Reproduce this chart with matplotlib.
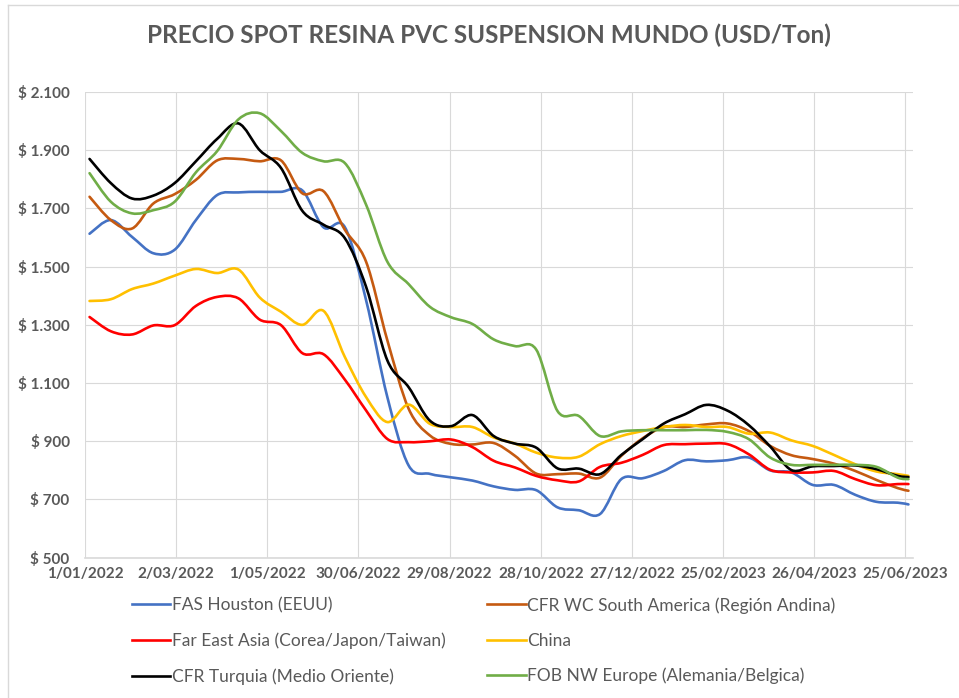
import matplotlib
matplotlib.use("Agg")
import matplotlib.pyplot as plt
import matplotlib.dates as mdates
from matplotlib.path import Path
from matplotlib.patches import PathPatch
from matplotlib.lines import Line2D
from matplotlib.ticker import FuncFormatter
import numpy as np
import pandas as pd

plt.rcParams["font.family"] = ["Lato", "DejaVu Sans"]

TITLE = "PRECIO SPOT RESINA PVC SUSPENSION MUNDO (USD/Ton)"

DATES = [
    "2022-01-04", "2022-01-18", "2022-02-01", "2022-02-15", "2022-03-01",
    "2022-03-15", "2022-03-29", "2022-04-12", "2022-04-26", "2022-05-10",
    "2022-05-24", "2022-06-07", "2022-06-21", "2022-07-05", "2022-07-19",
    "2022-08-02", "2022-08-16", "2022-08-30", "2022-09-13", "2022-09-27",
    "2022-10-11", "2022-10-25", "2022-11-08", "2022-11-22", "2022-12-06",
    "2022-12-20", "2023-01-03", "2023-01-17", "2023-01-31", "2023-02-14",
    "2023-02-28", "2023-03-14", "2023-03-28", "2023-04-11", "2023-04-25",
    "2023-05-09", "2023-05-23", "2023-06-06", "2023-06-20", "2023-06-27",
]

fas_houston = [1613, 1660, 1602, 1546, 1558, 1660, 1746, 1755, 1757, 1757,
               1762, 1635, 1636, 1385, 1052, 817, 788, 776, 765, 745,
               733, 732, 673, 663, 650, 770, 773, 798, 835, 831,
               835, 844, 800, 793, 750, 750, 716, 692, 689, 683]
cfr_wc_sa = [1740, 1660, 1631, 1717, 1749, 1798, 1865, 1870, 1862, 1865,
             1752, 1759, 1627, 1517, 1247, 1012, 920, 891, 889, 894,
             850, 789, 787, 789, 775, 850, 910, 949, 949, 958,
             961, 935, 884, 852, 839, 823, 798, 767, 739, 730]
far_east = [1327, 1278, 1267, 1298, 1299, 1365, 1396, 1391, 1318, 1299,
            1203, 1199, 1112, 1006, 908, 897, 900, 906, 880, 833,
            810, 781, 766, 762, 812, 826, 853, 887, 890, 892,
            890, 855, 802, 793, 793, 798, 770, 749, 753, 753]
china = [1382, 1388, 1423, 1442, 1469, 1492, 1478, 1490, 1394, 1345,
         1300, 1348, 1190, 1052, 966, 1026, 960, 949, 949, 913,
         892, 861, 844, 847, 890, 918, 935, 949, 956, 949,
         949, 926, 930, 903, 884, 853, 821, 796, 787, 781]
cfr_turquia = [1870, 1787, 1734, 1744, 1787, 1862, 1939, 1992, 1900, 1839,
               1692, 1644, 1598, 1431, 1178, 1086, 971, 952, 990, 918,
               892, 878, 807, 806, 787, 853, 907, 961, 993, 1025,
               1005, 955, 882, 801, 814, 815, 817, 804, 781, 777]
fob_nw_europe = [1821, 1723, 1683, 1694, 1723, 1824, 1897, 2006, 2027, 1966,
                 1891, 1862, 1856, 1713, 1517, 1440, 1362, 1326, 1303, 1250,
                 1227, 1215, 1004, 987, 918, 934, 938, 938, 938, 939,
                 932, 907, 844, 819, 819, 819, 819, 812, 775, 770]

SERIES = [
    ("FAS Houston (EEUU)", fas_houston, "#4472C4"),
    ("CFR WC South America (Región Andina)", cfr_wc_sa, "#C55A11"),
    ("Far East Asia (Corea/Japon/Taiwan)", far_east, "#FF0000"),
    ("China", china, "#FFC000"),
    ("CFR Turquia (Medio Oriente)", cfr_turquia, "#000000"),
    ("FOB NW Europe (Alemania/Belgica)", fob_nw_europe, "#70AD47"),
]

TICK_DATES = ["2022-01-01", "2022-03-02", "2022-05-01", "2022-06-30",
              "2022-08-29", "2022-10-28", "2022-12-27", "2023-02-25",
              "2023-04-26", "2023-06-25"]
Y_TICKS = [500, 700, 900, 1100, 1300, 1500, 1700, 1900, 2100]


def smooth_path(x, y):
    # catmull-rom style bezier, like excel "smoothed line"
    pts = np.column_stack([x, y])
    verts = [pts[0]]
    codes = [Path.MOVETO]
    n = len(pts)
    for i in range(n - 1):
        p0 = pts[i - 1] if i > 0 else pts[i]
        p1 = pts[i]
        p2 = pts[i + 1]
        p3 = pts[i + 2] if i + 2 < n else pts[i + 1]
        c1 = p1 + (p2 - p0) / 6.0
        c2 = p2 - (p3 - p1) / 6.0
        verts += [c1, c2, p2]
        codes += [Path.CURVE4] * 3
    return Path(verts, codes)


def main():
    W, H = 959, 698
    fig = plt.figure(figsize=(W / 100, H / 100), dpi=100)
    ax = fig.add_axes([85 / W, (H - 557.7) / H, (913 - 85) / W, (557.7 - 92) / H])

    x = mdates.date2num(pd.to_datetime(DATES))
    handles = []
    for label, vals, color in SERIES:
        patch = PathPatch(smooth_path(x, np.array(vals, float)), fill=False,
                          edgecolor=color, lw=1.9, capstyle="round",
                          joinstyle="round", zorder=3)
        ax.add_patch(patch)
        handles.append(Line2D([], [], color=color, lw=1.9, label=label))

    ticks = mdates.date2num(pd.to_datetime(TICK_DATES))
    ax.set_xlim(ticks[0], mdates.date2num(pd.Timestamp("2023-06-30")))
    ax.set_ylim(Y_TICKS[0], Y_TICKS[-1])
    ax.set_xticks(ticks)
    ax.set_xticklabels([pd.Timestamp(t).strftime("%-d/%m/%Y") for t in TICK_DATES])
    ax.set_yticks(Y_TICKS)
    ax.yaxis.set_major_formatter(FuncFormatter(
        lambda v, p: "$ " + f"{v:,.0f}".replace(",", ".")))

    ax.grid(True, color="#D9D9D9", lw=0.8, zorder=0)
    for s in ["top", "right", "left"]:
        ax.spines[s].set_visible(False)
    ax.spines["bottom"].set_color("#D9D9D9")
    ax.spines["bottom"].set_linewidth(1.2)
    ax.tick_params(length=0, labelcolor="#595959", labelsize=11)
    ax.tick_params(axis="y", pad=11)
    ax.tick_params(axis="x", pad=7)
    for lab in ax.get_xticklabels() + ax.get_yticklabels():
        lab.set_fontweight("bold")

    fig.text(489 / W, 1 - 35 / H, TITLE, ha="center", va="center",
             fontsize=17.5, fontweight="bold", color="#595959")

    order = [0, 2, 4, 1, 3, 5]
    fig.legend([handles[i] for i in order], [handles[i].get_label() for i in order],
               ncol=2, loc="upper left", bbox_to_anchor=(132 / W, 1 - 597 / H),
               frameon=False, fontsize=12.5, handlelength=2.2, handletextpad=0.1,
               columnspacing=2.4, labelspacing=1.1, borderpad=0, borderaxespad=0,
               labelcolor="#595959")

    # chart border like excel
    fig.add_artist(Line2D([8 / W, 8 / W], [0, 1 - 5 / H], color="#D9D9D9", lw=1,
                          transform=fig.transFigure))
    fig.add_artist(Line2D([8 / W, 1], [1 - 5 / H, 1 - 5 / H], color="#D9D9D9", lw=1,
                          transform=fig.transFigure))

    fig.savefig("out.png", dpi=100)


if __name__ == "__main__":
    main()
